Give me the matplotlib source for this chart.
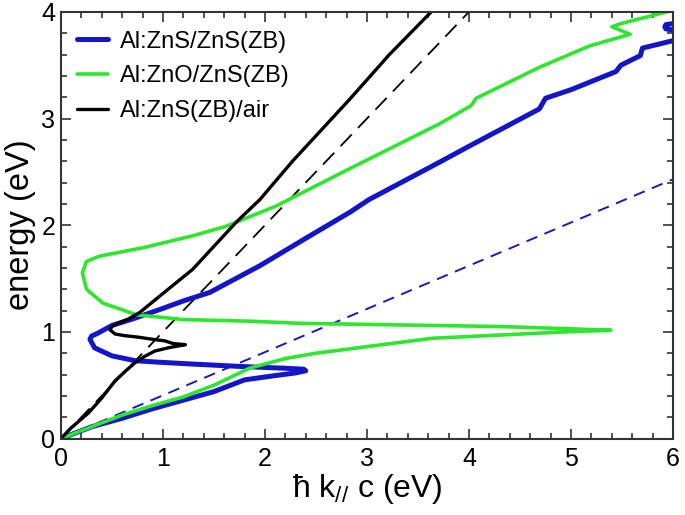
import numpy as np
import matplotlib
matplotlib.use("Agg")
import matplotlib.pyplot as plt
from matplotlib.ticker import MultipleLocator

plt.rcParams['font.family'] = ['Liberation Sans', 'DejaVu Sans']
plt.rcParams['mathtext.fontset'] = 'custom'
plt.rcParams['mathtext.rm'] = 'Liberation Sans'
plt.rcParams['mathtext.it'] = 'Liberation Sans:italic'
plt.rcParams['mathtext.fallback'] = 'stixsans'

# Al:ZnS/ZnS(ZB) - blue solid (NaN splits off the small piece at top right)
zns_x = [0, 0.3, 0.6, 0.9, 1.2, 1.5, 1.8, 2.1, 2.3, 2.40, 2.38, 2.17, 1.77, 1.25,
         0.97, 0.725, 0.5, 0.33, 0.284, 0.3, 0.366, 0.5, 0.7, 0.97, 1.2, 1.46,
         1.95, 2.44, 2.83, 3.02, 3.71, 4.0, 4.69, 4.75, 5.0, 5.44, 5.49, 5.68,
         5.70, 6.0, np.nan, 6.0, 5.93, 5.92, 5.93, 6.0]
zns_y = [0, 0.11, 0.19, 0.28, 0.36, 0.44, 0.55, 0.59, 0.615, 0.635, 0.65, 0.66, 0.675,
         0.70, 0.715, 0.73, 0.775, 0.85, 0.93, 0.96, 0.99, 1.06, 1.12, 1.21, 1.29,
         1.37, 1.62, 1.90, 2.12, 2.24, 2.59, 2.74, 3.09, 3.19, 3.27, 3.44, 3.50,
         3.59, 3.66, 3.73, np.nan, 3.89, 3.88, 3.86, 3.84, 3.83]

# Al:ZnO/ZnS(ZB) - green solid
zno_x = [0, 0.3, 0.6, 0.9, 1.2, 1.5, 1.85, 2.2, 2.5, 2.99, 3.64, 4.3, 4.95, 5.39,
         4.95, 4.3, 3.64, 2.99, 2.34, 1.85, 1.2, 0.74, 0.41, 0.25, 0.21, 0.25,
         0.38, 0.81, 1.29, 1.62, 2.11, 2.44, 2.83, 3.71, 4.02, 4.07, 4.69, 5.18,
         5.58, 5.40, 5.49, 6.0]
zno_y = [0, 0.11, 0.22, 0.31, 0.39, 0.50, 0.66, 0.75, 0.80, 0.86, 0.94, 0.97, 1.0,
         1.015, 1.03, 1.05, 1.06, 1.07, 1.08, 1.10, 1.115, 1.16, 1.27, 1.40, 1.555,
         1.66, 1.71, 1.79, 1.90, 1.99, 2.18, 2.34, 2.53, 2.95, 3.12, 3.19, 3.48,
         3.68, 3.79, 3.86, 3.89, 4.015]

# Al:ZnS(ZB)/air - black solid
air_x = [0, 0.1, 0.27, 0.4, 0.53, 0.63, 0.725, 0.82, 0.92, 1.05, 1.22, 1.1, 1.02,
         0.9, 0.76, 0.62, 0.53, 0.48, 0.5, 0.53, 0.66, 0.77, 1.0, 1.29, 1.72, 1.95,
         2.27, 2.83, 3.09, 3.22, 3.63]
air_y = [0, 0.1, 0.24, 0.38, 0.54, 0.63, 0.71, 0.77, 0.82, 0.85, 0.88, 0.89, 0.915,
         0.93, 0.95, 0.965, 0.98, 1.02, 1.05, 1.07, 1.12, 1.18, 1.36, 1.585, 2.03,
         2.24, 2.6, 3.18, 3.46, 3.6, 4.0]

# light lines
air_light_x = [0, 4.0]
air_light_y = [0, 4.0]
zns_light_x = [0, 6.0]
zns_light_y = [0, 2.43]

labels = ['Al:ZnS/ZnS(ZB)', 'Al:ZnO/ZnS(ZB)', 'Al:ZnS(ZB)/air']
blue = '#1414c8'
green = '#2ee62e'

fig = plt.figure(figsize=(6.85, 5.15), dpi=100)
ax = fig.add_axes([0.089, 0.1485, 0.8935, 0.8285])

ax.plot(air_light_x, air_light_y, color='black', lw=1.3, dashes=(9, 5))
ax.plot(zns_light_x, zns_light_y, color='#1a1ab4', lw=1.4, dashes=(6, 4))

kw = dict(solid_joinstyle='round', solid_capstyle='round')
ax.plot(zns_x, zns_y, color=blue, lw=3.6, label=labels[0], **kw)
ax.plot(zno_x, zno_y, color=green, lw=2.6, label=labels[1], **kw)
ax.plot(air_x, air_y, color='black', lw=2.4, label=labels[2], **kw)

ax.set_xlim(0, 6)
ax.set_ylim(0, 4)
ax.xaxis.set_major_locator(MultipleLocator(1))
ax.xaxis.set_minor_locator(MultipleLocator(0.2))
ax.yaxis.set_major_locator(MultipleLocator(1))
ax.yaxis.set_minor_locator(MultipleLocator(0.2))
ax.tick_params(which='both', direction='in', top=True, right=True, width=1.2,
               labelsize=18, colors='#333333', labelcolor='black')
ax.tick_params(which='major', length=7)
ax.tick_params(which='minor', length=4)
ax.tick_params(axis='x', pad=6)
ax.tick_params(axis='y', pad=4)
for s in ax.spines.values():
    s.set_linewidth(1.5)
    s.set_color('#333333')

ax.set_xlabel('$\\mathrm{\\hbar}$ k$_{\\mathrm{//}}$ c (eV)', fontsize=23, labelpad=1)
ax.set_ylabel('energy (eV)', fontsize=23.5, labelpad=4)

ax.legend(loc='upper left', frameon=False, fontsize=17, handlelength=1.3,
          handletextpad=0.5, labelspacing=0.55, borderaxespad=0.3,
          bbox_to_anchor=(0.0, 0.995))

fig.savefig('out.png', dpi=100)
